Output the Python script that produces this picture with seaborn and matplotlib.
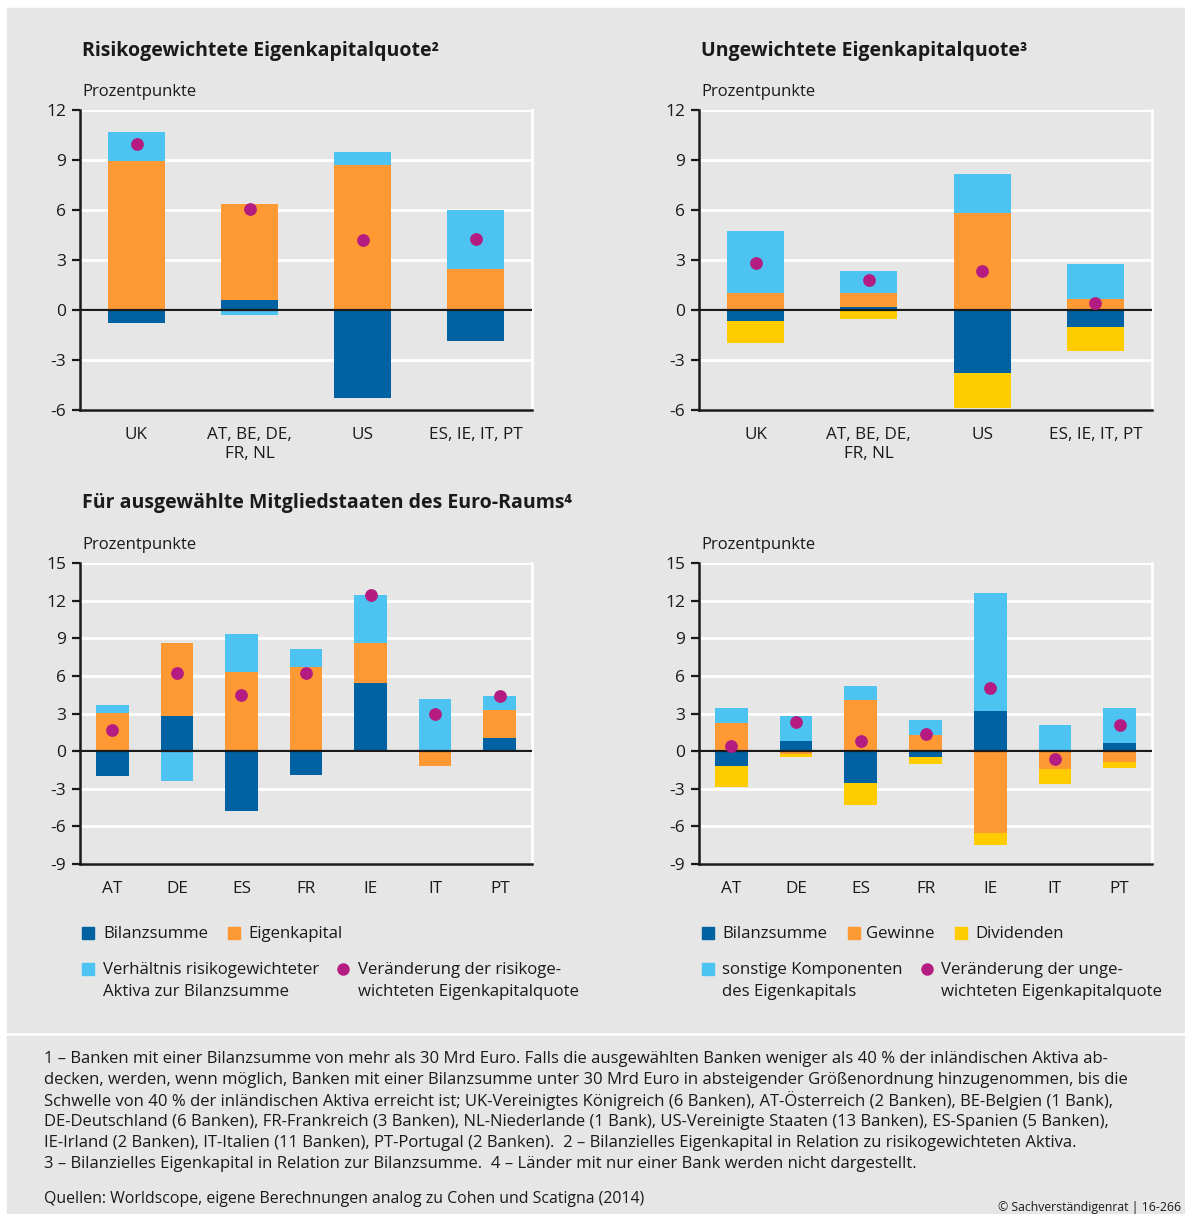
import numpy as np
import pandas as pd
import seaborn as sns
import matplotlib
matplotlib.use("Agg")
import matplotlib.pyplot as plt
from matplotlib.patches import Rectangle
from matplotlib.lines import Line2D

# ---- data -------------------------------------------------------------
groups = ["UK", "AT, BE, DE,\nFR, NL", "US", "ES, IE, IT, PT"]
countries = ["AT", "DE", "ES", "FR", "IE", "IT", "PT"]

# risk-weighted capital ratio, country groups
rw_bilanz = [-0.76, 0.60, -5.26, -1.84]
rw_eigenkapital = [8.94, 5.76, 8.70, 2.46]
rw_verhaeltnis = [1.74, -0.30, 0.78, 3.54]
rw_change = [9.94, 6.08, 4.20, 4.24]

# unweighted capital ratio, country groups
uw_bilanz = [-0.66, 0.18, -3.78, -1.02]
uw_gewinne = [1.00, 0.82, 5.82, 0.66]
uw_sonstige = [3.74, 1.34, 2.34, 2.10]
uw_dividenden = [-1.30, -0.54, -2.08, -1.44]
uw_change = [2.82, 1.80, 2.34, 0.40]

# risk-weighted capital ratio, euro area member states
eu_rw_bilanz = [-2.02, 2.77, -4.81, -1.94, 5.40, -0.05, 1.01]
eu_rw_eigenkapital = [3.03, 5.82, 6.28, 6.70, 3.22, -1.17, 2.23]
eu_rw_verhaeltnis = [0.61, -2.42, 3.03, 1.41, 3.80, 4.12, 1.12]
eu_rw_change = [1.65, 6.25, 4.49, 6.22, 12.45, 2.98, 4.41]

# unweighted capital ratio, euro area member states
eu_uw_bilanz = [-1.22, 0.77, -2.58, -0.50, 3.16, -0.05, 0.61]
eu_uw_gewinne = [2.23, -0.19, 4.04, 1.28, -6.49, -1.41, -0.90]
eu_uw_sonstige = [1.17, 2.00, 1.12, 1.17, 9.42, 2.05, 2.79]
eu_uw_dividenden = [-1.65, -0.31, -1.73, -0.56, -1.01, -1.20, -0.48]
eu_uw_change = [0.43, 2.29, 0.82, 1.38, 5.03, -0.64, 2.10]

# ---- style ------------------------------------------------------------
DARK = "#0062a3"
ORANGE = "#ff9933"
LIGHT = "#4cc3f1"
YELLOW = "#ffcc00"
MAGENTA = "#b51c82"
BG = "#e6e6e6"
TXT = "#1a1a1a"

sns.set_theme(style="white")
plt.rcParams["font.family"] = ["Open Sans", "DejaVu Sans"]
plt.rcParams["text.color"] = TXT
plt.rcParams["axes.labelcolor"] = TXT
plt.rcParams["xtick.color"] = TXT
plt.rcParams["ytick.color"] = TXT

W, H = 1185, 1214
fig = plt.figure(figsize=(W / 100, H / 100), dpi=100)
fig.patch.set_facecolor("white")

def fx(x):
    return x / W

def fy(y):
    return 1 - y / H

# grey background panels
fig.patches.append(Rectangle((fx(7), fy(1032)), fx(1185) - fx(7), fy(8) - fy(1032),
                             transform=fig.transFigure, color=BG, zorder=-10))
fig.patches.append(Rectangle((fx(7), fy(1214)), fx(1185) - fx(7), fy(1036) - fy(1214),
                             transform=fig.transFigure, color=BG, zorder=-10))

def make_ax(left, top, right, bottom):
    return fig.add_axes([fx(left), fy(bottom), fx(right) - fx(left), fy(top) - fy(bottom)])

def stacked_panel(ax, cats, comps, colors, change, ylim, yticks):
    pos = np.zeros(len(cats))
    neg = np.zeros(len(cats))
    for vals, col in zip(comps, colors):
        vals = np.asarray(vals, dtype=float)
        bottom = np.where(vals >= 0, pos, neg)
        df = pd.DataFrame({"cat": cats, "val": vals})
        sns.barplot(data=df, x="cat", y="val", order=cats, color=col, width=0.505,
                    errorbar=None, bottom=bottom, saturation=1, linewidth=0,
                    ax=ax, zorder=3)
        pos = pos + np.where(vals >= 0, vals, 0)
        neg = neg + np.where(vals < 0, vals, 0)
    dots = pd.DataFrame({"cat": cats, "val": change})
    sns.stripplot(data=dots, x="cat", y="val", order=cats, jitter=False, color=MAGENTA,
                  size=9.2, linewidth=0, ax=ax, zorder=5)

    ax.set_facecolor(BG)
    ax.set_ylim(*ylim)
    ax.set_xlim(-0.5, len(cats) - 0.5)
    ax.set_yticks(yticks)
    ax.set_yticklabels([str(t) for t in yticks], fontsize=12.5)
    for t in yticks:
        ax.axhline(t, color="white", lw=2, zorder=1)
    ax.axhline(0, color="#1a1a1a", lw=1.6, zorder=4)
    ax.set_xlabel("")
    ax.set_ylabel("")
    ax.set_xticks(range(len(cats)))
    ax.set_xticklabels(cats, fontsize=12.3, linespacing=1.3)
    ax.set_xticks(np.arange(-0.5, len(cats), 1.0), minor=True)
    ax.tick_params(axis="x", which="major", length=0, pad=12)
    ax.tick_params(axis="x", which="minor", length=8, width=1.8, direction="out",
                   color="#1a1a1a")
    ax.tick_params(axis="y", length=6, width=1.6, direction="out", pad=4,
                   color="#1a1a1a", left=True)
    for side in ("left", "bottom"):
        ax.spines[side].set_visible(True)
        ax.spines[side].set_color("#1a1a1a")
        ax.spines[side].set_linewidth(1.8)
        ax.spines[side].set_zorder(6)
    ax.spines["right"].set_visible(True)
    ax.spines["right"].set_color("white")
    ax.spines["right"].set_linewidth(2)
    ax.spines["top"].set_visible(False)

ax1 = make_ax(80, 110, 532, 410)
stacked_panel(ax1, groups, [rw_bilanz, rw_eigenkapital, rw_verhaeltnis],
              [DARK, ORANGE, LIGHT], rw_change, (-6, 12), [-6, -3, 0, 3, 6, 9, 12])

ax2 = make_ax(699, 110, 1152, 410)
stacked_panel(ax2, groups, [uw_bilanz, uw_gewinne, uw_sonstige, uw_dividenden],
              [DARK, ORANGE, LIGHT, YELLOW], uw_change, (-6, 12), [-6, -3, 0, 3, 6, 9, 12])

ax3 = make_ax(80, 563, 532, 864)
stacked_panel(ax3, countries, [eu_rw_bilanz, eu_rw_eigenkapital, eu_rw_verhaeltnis],
              [DARK, ORANGE, LIGHT], eu_rw_change, (-9, 15),
              [-9, -6, -3, 0, 3, 6, 9, 12, 15])

ax4 = make_ax(699, 563, 1152, 864)
stacked_panel(ax4, countries, [eu_uw_bilanz, eu_uw_gewinne, eu_uw_sonstige, eu_uw_dividenden],
              [DARK, ORANGE, LIGHT, YELLOW], eu_uw_change, (-9, 15),
              [-9, -6, -3, 0, 3, 6, 9, 12, 15])

# ---- titles and unit labels ------------------------------------------
title_kw = dict(fontsize=14, fontweight="bold", va="center", ha="left")
fig.text(fx(82), fy(51), "Risikogewichtete Eigenkapitalquote²", **title_kw)
fig.text(fx(701), fy(51), "Ungewichtete Eigenkapitalquote³", **title_kw)
fig.text(fx(82), fy(503), "Für ausgewählte Mitgliedstaaten des Euro-Raums⁴", **title_kw)

for x, y in [(82, 92), (701, 92), (82, 545), (701, 545)]:
    fig.text(fx(x), fy(y), "Prozentpunkte", fontsize=12, va="center", ha="left")

# ---- legends ------------------------------------------------------------
def sq(x, y, color):
    fig.patches.append(Rectangle((fx(x), fy(y + 6)), fx(12), 12 / H,
                                 transform=fig.transFigure, color=color))

def dot(x, y):
    fig.lines.append(Line2D([fx(x)], [fy(y)], transform=fig.transFigure, marker="o",
                            markersize=9, color=MAGENTA, markeredgewidth=0))

leg_kw = dict(fontsize=12.1, va="center", ha="left", linespacing=1.45)
sq(82, 933, DARK); fig.text(fx(103), fy(934), "Bilanzsumme", **leg_kw)
sq(228, 933, ORANGE); fig.text(fx(248), fy(934), "Eigenkapital", **leg_kw)
sq(82, 969, LIGHT); fig.text(fx(103), fy(981), "Verhältnis risikogewichteter\nAktiva zur Bilanzsumme", **leg_kw)
dot(343, 969); fig.text(fx(358), fy(981), "Veränderung der risikoge-\nwichteten Eigenkapitalquote", **leg_kw)

sq(702, 933, DARK); fig.text(fx(722), fy(934), "Bilanzsumme", **leg_kw)
sq(848, 933, ORANGE); fig.text(fx(866), fy(934), "Gewinne", **leg_kw)
sq(955, 933, YELLOW); fig.text(fx(975), fy(934), "Dividenden", **leg_kw)
sq(702, 969, LIGHT); fig.text(fx(722), fy(981), "sonstige Komponenten\ndes Eigenkapitals", **leg_kw)
dot(927, 969); fig.text(fx(941), fy(981), "Veränderung der unge-\nwichteten Eigenkapitalquote", **leg_kw)

# ---- footnotes ----------------------------------------------------------
notes = [
    "1 – Banken mit einer Bilanzsumme von mehr als 30 Mrd Euro. Falls die ausgewählten Banken weniger als 40 % der inländischen Aktiva ab-",
    "decken, werden, wenn möglich, Banken mit einer Bilanzsumme unter 30 Mrd Euro in absteigender Größenordnung hinzugenommen, bis die",
    "Schwelle von 40 % der inländischen Aktiva erreicht ist; UK-Vereinigtes Königreich (6 Banken), AT-Österreich (2 Banken), BE-Belgien (1 Bank),",
    "DE-Deutschland (6 Banken), FR-Frankreich (3 Banken), NL-Niederlande (1 Bank), US-Vereinigte Staaten (13 Banken), ES-Spanien (5 Banken),",
    "IE-Irland (2 Banken), IT-Italien (11 Banken), PT-Portugal (2 Banken).  2 – Bilanzielles Eigenkapital in Relation zu risikogewichteten Aktiva.",
    "3 – Bilanzielles Eigenkapital in Relation zur Bilanzsumme.  4 – Länder mit nur einer Bank werden nicht dargestellt.",
]
for i, line in enumerate(notes):
    fig.text(fx(44), fy(1059 + i * 21), line, fontsize=12.0, va="center", ha="left")
fig.text(fx(44), fy(1199), "Quellen: Worldscope, eigene Berechnungen analog zu Cohen und Scatigna (2014)",
         fontsize=11.4, va="center", ha="left")
fig.text(fx(1181), fy(1207), "© Sachverständigenrat | 16-266", fontsize=8.8, va="center", ha="right")

fig.savefig("out.png", dpi=100)
